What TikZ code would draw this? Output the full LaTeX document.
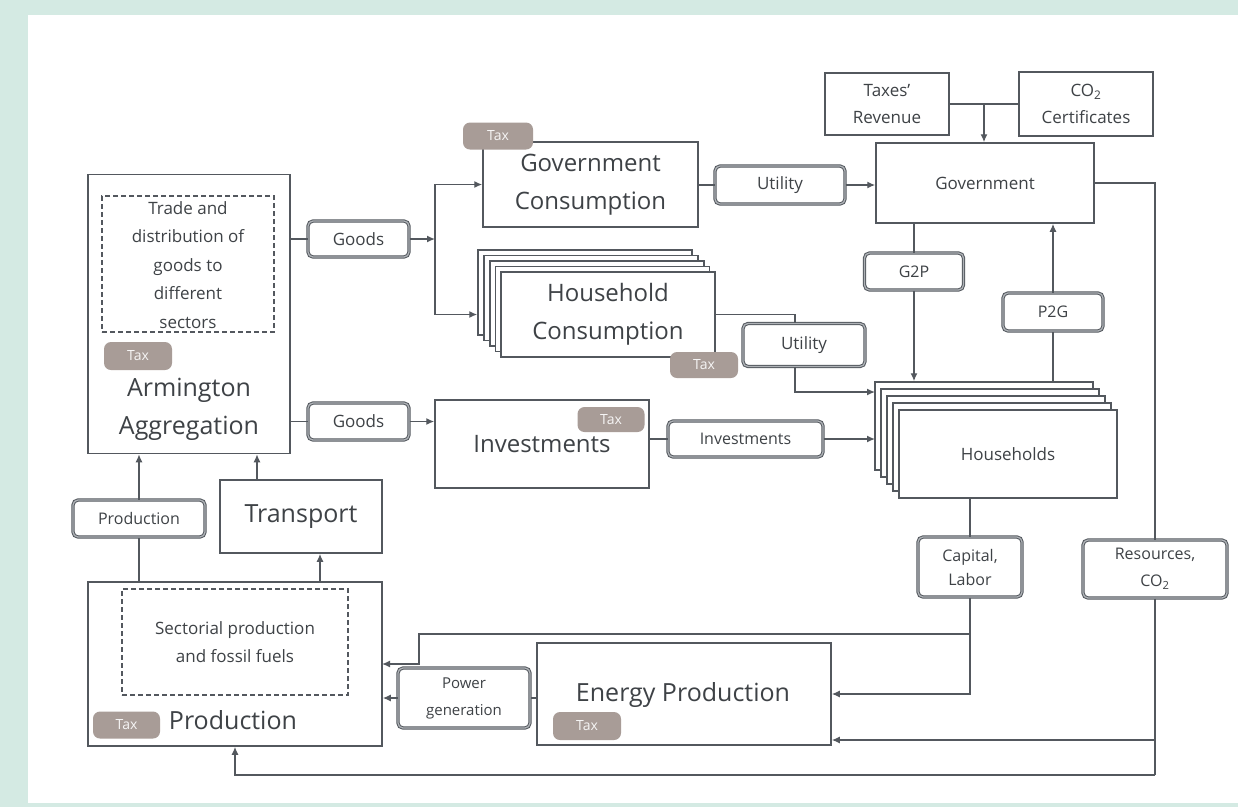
\documentclass[tikz,border=0pt]{standalone}
\usepackage{fontspec}
\setmainfont{Open Sans}
\usetikzlibrary{arrows.meta,calc}
\definecolor{mint}{HTML}{D4EAE3}
\definecolor{boxc}{HTML}{53585E}
\definecolor{txt}{HTML}{3E4246}
\definecolor{lbld}{HTML}{AEB2B6}
\definecolor{taxc}{HTML}{A89C97}
\newcommand{\fs}[2]{\fontsize{#1}{#2}\selectfont}
\tikzset{
  box/.style={draw=boxc, line width=1.5pt, fill=white, inner sep=2pt, align=center, text=txt},
  lbl/.style={draw=boxc, line width=1pt, double=lbld, double distance=1.3pt, rounded corners=5pt, fill=white, align=center, text=txt, inner sep=1pt},
  taxpill/.style={fill=taxc, rounded corners=7pt, text=white!90!taxc, inner sep=0pt, font=\fs{14}{16}},
  dbox/.style={draw=boxc, dashed, dash pattern=on 5pt off 3pt, line width=1.3pt},
  ln/.style={draw=boxc, line width=1.4pt},
  arr/.style={draw=boxc, line width=1.4pt, -{Latex[length=8pt,width=7pt]}},
  txtn/.style={text=txt, align=center, inner sep=0pt},
  layer/.style={draw=boxc, line width=1.5pt, fill=white}
}
\begin{document}
\begin{tikzpicture}[x=1pt,y=-1pt]
\useasboundingbox (0,0) rectangle (1238,807);
\fill[mint] (0,0) rectangle (1238,807);
\fill[white] (28,15) rectangle (1238,803);

% Armington
\node[box, minimum width=202, minimum height=279] (arm) at (189,314) {};
\node[dbox, minimum width=172, minimum height=136] (armd) at (188,264) {};
\node[txtn, font=\fs{17}{28.5}] (armdt) at (188,265) {Trade and\\distribution of\\goods to\\different\\sectors};
\node[taxpill, minimum width=68, minimum height=28] (armtax) at (138,356) {Tax};
\node[txtn, font=\fs{25}{38}] (armt) at (189,409) {Armington\\Aggregation};

% Goods labels
\node[lbl, minimum width=101, minimum height=36, font=\fs{17}{20}] (goods1) at (358.5,239) {Goods};
\node[lbl, minimum width=101, minimum height=37, font=\fs{17}{20}] (goods2) at (358.5,421.5) {Goods};
\coordinate (j1) at (435,239);

% Government consumption
\node[box, minimum width=215, minimum height=85, font=\fs{24}{38}] (gc) at (590.5,184.5) {Government\\Consumption};
\node[taxpill, minimum width=70, minimum height=27] (gctax) at (498,136) {Tax};

% Household consumption (stack)
\node[layer, minimum width=214, minimum height=85] (hcback) at (585,292.5) {};
\node[layer, minimum width=214, minimum height=85] (hcl2) at (591,298) {};
\node[layer, minimum width=214, minimum height=85] (hcl3) at (597,303.5) {};
\node[layer, minimum width=214, minimum height=85] (hcl4) at (602.5,309) {};
\node[box, minimum width=214, minimum height=85, font=\fs{24}{38}] (hc) at (608,314.5) {Household\\Consumption};
\node[taxpill, minimum width=68, minimum height=26] (hctax) at (704,365) {Tax};

% Utility labels
\node[lbl, minimum width=130, minimum height=38, font=\fs{17}{20}] (util1) at (780,185) {Utility};
\node[lbl, minimum width=122, minimum height=43, font=\fs{17}{20}] (util2) at (804,345) {Utility};

% Government
\node[box, minimum width=218, minimum height=80, font=\fs{17}{20}] (gov) at (985,183) {Government};
\node[box, minimum width=124, minimum height=62, font=\fs{17}{27}] (taxrev) at (887,104) {Taxes’\\Revenue};
\node[box, minimum width=134, minimum height=64, font=\fs{17}{27}] (co2) at (1086,104) {CO\textsubscript{2}\\Certificates};
\coordinate (j2) at (984,104);

\node[lbl, minimum width=99, minimum height=37, font=\fs{16}{20}] (g2p) at (914,271.5) {G2P};
\node[lbl, minimum width=100, minimum height=38, font=\fs{16}{20}] (p2g) at (1053,312) {P2G};

% Households (stack)
\node[layer, minimum width=218, minimum height=88] (hhback) at (984,426) {};
\node[layer, minimum width=218, minimum height=88] (hhl2) at (990,433) {};
\node[layer, minimum width=218, minimum height=88] (hhl3) at (996,440) {};
\node[layer, minimum width=218, minimum height=88] (hhl4) at (1002,447) {};
\node[box, minimum width=218, minimum height=88, font=\fs{17}{20}] (hh) at (1008,454) {Households};
\coordinate (hhin1) at (875,392);
\coordinate (hhin2) at (875,441);

% Investments
\node[box, minimum width=214, minimum height=88, font=\fs{24}{28}] (inv) at (542,444) {Investments};
\node[taxpill, minimum width=67, minimum height=25] (invtax) at (611,419.5) {Tax};
\node[lbl, minimum width=155, minimum height=36, font=\fs{16}{20}] (invl) at (745.5,439) {Investments};

% Capital, Resources
\node[lbl, minimum width=104, minimum height=60, font=\fs{16}{24}] (cap) at (970,567) {Capital,\\Labor};
\node[lbl, minimum width=144, minimum height=58, font=\fs{16}{27}] (res) at (1155,569) {Resources,\\CO\textsubscript{2}};

% Production label, Transport
\node[lbl, minimum width=132, minimum height=37, font=\fs{16}{20}] (prodl) at (139,518.5) {Production};
\node[box, minimum width=162, minimum height=73, font=\fs{25}{28}] (trans) at (301,516.5) {Transport};

% Production
\node[box, minimum width=294, minimum height=164] (prod) at (235,664) {};
\node[dbox, minimum width=226, minimum height=106] (prodd) at (235,642) {};
\node[txtn, font=\fs{17}{28}] (proddt) at (235,642) {Sectorial production\\and fossil fuels};
\node[taxpill, minimum width=67, minimum height=27] (prodtax) at (126.5,725) {Tax};
\node[txtn, font=\fs{25}{28}] (prodt) at (233,720) {Production};

% Energy production
\node[box, minimum width=294, minimum height=102] (ep) at (684,694) {};
\node[txtn, font=\fs{25}{28}] (ept) at (683,695) {Energy Production};
\node[taxpill, minimum width=68, minimum height=28] (eptax) at (587,726) {Tax};
\node[lbl, minimum width=132, minimum height=60, font=\fs{15}{27}] (pg) at (464,698) {Power\\generation};

\coordinate (jb) at (1155,775);
\coordinate (je) at (1155,740);
\coordinate (jc) at (970,634);
\coordinate (jc2) at (419,634);
\coordinate (pin1) at (382,664);
\coordinate (tx) at (320,0);
\coordinate (ty) at (257,0);

% Connectors
\draw[ln] (arm.east |- goods1.west) -- (goods1.west);
\draw[arr] (goods1.east) -- (j1);
\draw[arr] (j1) |- (gc.west);
\draw[arr] (j1) |- (hcback.west |- hc.west);
\draw[ln] (arm.east |- goods2.west) -- (goods2.west);
\draw[arr] (goods2.east) -- (goods2.east -| inv.west);

\draw[ln] (gc.east |- util1.west) -- (util1.west);
\draw[arr] (util1.east) -- (util1.east -| gov.west);

\draw[ln] (hc.east) -| ($(util2.north)+(-9,0)$);
\draw[arr] ($(util2.south)+(-9,0)$) |- (hhin1);

\draw[ln] (inv.east |- invl.west) -- (invl.west);
\draw[arr] (invl.east) -- (invl.east -| hhin2);

\draw[ln] (taxrev.east) -- (co2.west);
\draw[arr] (j2) -- (j2 |- gov.north);

\draw[ln] (gov.south -| g2p.north) -- (g2p.north);
\draw[arr] (g2p.south) -- (g2p.south |- hhback.north);
\draw[ln] (hhback.north -| p2g.south) -- (p2g.south);
\draw[arr] (p2g.north) -- (p2g.north |- gov.south);

\draw[ln] (gov.east) -| (res.north);
\draw[ln] (res.south) -- (jb);
\draw[arr] (jb) -| (prod.south);
\draw[arr] (je) -- (je -| ep.east);

\draw[ln] (hh.south -| cap.north) -- (cap.north);
\draw[arr] (cap.south) |- (ep.east);
\draw[arr] (jc) -- (jc2) |- (pin1);

\draw[ln] (ep.west |- pg.east) -- (pg.east);
\draw[arr] (pg.west) -- (pg.west -| prod.east);

\draw[ln] (prod.north -| prodl.south) -- (prodl.south);
\draw[arr] (prodl.north) -- (prodl.north |- arm.south);
\draw[arr] (prod.north -| tx) -- (tx |- trans.south);
\draw[arr] (trans.north -| ty) -- (ty |- arm.south);
\end{tikzpicture}
\end{document}
